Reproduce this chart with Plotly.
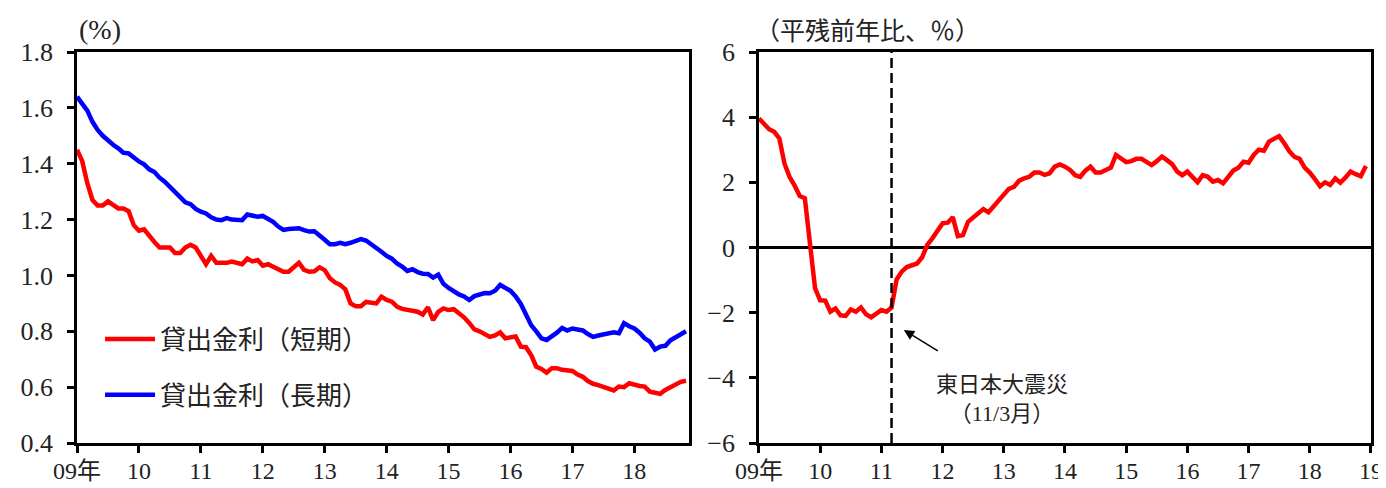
import plotly.graph_objects as go
from plotly.subplots import make_subplots

# ---------------- data ----------------
START_YEAR = 2009
# 貸出金利（短期）, monthly from 2009/1, %
rate_short = [
    1.45, 1.41, 1.33, 1.27, 1.25, 1.25, 1.265, 1.25, 1.24, 1.24, 1.23, 1.18,
    1.16, 1.165, 1.14, 1.12, 1.10, 1.10, 1.10, 1.08, 1.08, 1.10, 1.11, 1.10,
    1.07, 1.04, 1.07, 1.045, 1.045, 1.045, 1.05, 1.045, 1.04, 1.06, 1.05, 1.055,
    1.035, 1.04, 1.03, 1.02, 1.013, 1.013, 1.03, 1.045, 1.02, 1.013, 1.015, 1.029,
    1.019, 0.99, 0.975, 0.966, 0.95, 0.90, 0.89, 0.89, 0.905, 0.903, 0.90, 0.924,
    0.912, 0.906, 0.888, 0.88, 0.876, 0.876, 0.87, 0.86, 0.886, 0.84, 0.87, 0.882,
    0.876, 0.879, 0.865, 0.85, 0.83, 0.807, 0.80, 0.79, 0.78, 0.785, 0.796, 0.775,
    0.78, 0.781, 0.745, 0.743, 0.715, 0.673, 0.665, 0.652, 0.668, 0.668, 0.662, 0.659,
    0.658, 0.645, 0.637, 0.622, 0.612, 0.607, 0.600, 0.596, 0.588, 0.602, 0.600, 0.614,
    0.607, 0.604, 0.602, 0.584, 0.580, 0.576, 0.590, 0.600, 0.610, 0.619, 0.623,
]
# 貸出金利（長期）, monthly from 2009/1, %
rate_long = [
    1.640, 1.615, 1.590, 1.550, 1.521, 1.500, 1.482, 1.468, 1.455, 1.439, 1.437, 1.420,
    1.408, 1.398, 1.380, 1.370, 1.350, 1.336, 1.318, 1.300, 1.282, 1.262, 1.255, 1.238,
    1.228, 1.222, 1.208, 1.200, 1.198, 1.205, 1.200, 1.198, 1.198, 1.218, 1.214, 1.210,
    1.213, 1.203, 1.192, 1.175, 1.163, 1.166, 1.168, 1.169, 1.162, 1.157, 1.158, 1.145,
    1.128, 1.112, 1.112, 1.117, 1.112, 1.117, 1.124, 1.130, 1.125, 1.113, 1.098, 1.085,
    1.070, 1.060, 1.043, 1.032, 1.016, 1.022, 1.012, 1.006, 1.005, 0.992, 1.003, 0.970,
    0.955, 0.942, 0.932, 0.925, 0.912, 0.926, 0.930, 0.937, 0.936, 0.945, 0.966, 0.955,
    0.945, 0.925, 0.898, 0.860, 0.822, 0.800, 0.775, 0.769, 0.780, 0.795, 0.812, 0.803,
    0.810, 0.808, 0.803, 0.790, 0.780, 0.785, 0.790, 0.792, 0.796, 0.793, 0.829, 0.818,
    0.810, 0.795, 0.775, 0.763, 0.735, 0.745, 0.748, 0.768, 0.780, 0.788, 0.800,
]
# 貸出残高（平残前年比、%）, monthly from 2009/1
loan_growth = [
    3.96, 3.78, 3.63, 3.55, 3.35, 2.58, 2.17, 1.90, 1.58, 1.51, 0.10, -1.25,
    -1.62, -1.63, -1.97, -1.87, -2.08, -2.10, -1.90, -1.97, -1.84, -2.05, -2.14, -2.04,
    -1.92, -1.97, -1.84, -0.98, -0.74, -0.60, -0.55, -0.49, -0.30, 0.08, 0.28, 0.54,
    0.74, 0.76, 0.93, 0.35, 0.38, 0.79, 0.92, 1.05, 1.18, 1.08, 1.25, 1.42,
    1.62, 1.80, 1.86, 2.05, 2.12, 2.17, 2.30, 2.30, 2.23, 2.28, 2.48, 2.55,
    2.48, 2.38, 2.22, 2.17, 2.36, 2.48, 2.30, 2.30, 2.38, 2.45, 2.84, 2.74,
    2.62, 2.65, 2.72, 2.72, 2.62, 2.53, 2.65, 2.79, 2.68, 2.56, 2.33, 2.22,
    2.33, 2.17, 2.00, 2.22, 2.17, 2.02, 2.07, 1.97, 2.17, 2.36, 2.45, 2.63,
    2.60, 2.84, 3.00, 2.97, 3.25, 3.33, 3.42, 3.20, 2.95, 2.78, 2.72, 2.45,
    2.30, 2.10, 1.88, 2.00, 1.92, 2.12, 1.99, 2.15, 2.33, 2.25, 2.19, 2.50,
]
left_tick_years = list(range(2009, 2019))
left_tick_labels = ["09年", "10", "11", "12", "13", "14", "15", "16", "17", "18"]
right_tick_years = list(range(2009, 2020))
right_tick_labels = ["09年", "10", "11", "12", "13", "14", "15", "16", "17", "18", "19"]
quake_year, quake_month = 2011, 3
quake_label = "東日本大震災<br>（11/3月）"
name_short = "貸出金利（短期）"
name_long = "貸出金利（長期）"
left_title = "(%)"
right_title = "（平残前年比、％）"


def months_to_x(n):
    return [START_YEAR + i / 12 for i in range(n)]


x_left_s = months_to_x(len(rate_short))
x_left_l = months_to_x(len(rate_long))
x_right = months_to_x(len(loan_growth))
quake_x = quake_year + (quake_month - 1) / 12

FONT = "Liberation Serif, Noto Sans CJK JP, serif"
TXT = "#222222"

fig = make_subplots(rows=1, cols=2, horizontal_spacing=0.054)

fig.add_trace(go.Scatter(x=x_left_s, y=rate_short, mode="lines", name=name_short,
                         line=dict(color="#ff0000", width=4.5), legendgroup="a"), row=1, col=1)
fig.add_trace(go.Scatter(x=x_left_l, y=rate_long, mode="lines", name=name_long,
                         line=dict(color="#0000ff", width=4.5), legendgroup="b"), row=1, col=1)
fig.add_trace(go.Scatter(x=x_right, y=loan_growth, mode="lines", showlegend=False,
                         line=dict(color="#ff0000", width=4.5)), row=1, col=2)

axis_common = dict(showline=True, linecolor="black", linewidth=2.5, mirror=True,
                   ticks="outside", ticklen=7, tickwidth=2.5, tickcolor="black",
                   showgrid=False, zeroline=False, automargin=False)

fig.update_xaxes(**axis_common, ticklabelstandoff=-3,
                 tickfont=dict(family=FONT, size=24, color=TXT))
fig.update_yaxes(**axis_common, ticklabelstandoff=9,
                 tickfont=dict(family=FONT, size=26, color=TXT))

fig.update_xaxes(range=[START_YEAR, START_YEAR + 118.6 / 12], tickvals=left_tick_years,
                 ticktext=left_tick_labels, row=1, col=1)
fig.update_xaxes(range=[START_YEAR, 2019], tickvals=right_tick_years,
                 ticktext=right_tick_labels, row=1, col=2)
fig.update_yaxes(range=[0.4, 1.8], dtick=0.2, tickformat=".1f", row=1, col=1)
fig.update_yaxes(range=[-6, 6], dtick=2, zeroline=True, zerolinecolor="black",
                 zerolinewidth=2.5, row=1, col=2)

# vertical dashed line for the earthquake
fig.add_shape(type="line", xref="x2", yref="y2", x0=quake_x, x1=quake_x, y0=-6, y1=6,
              line=dict(color="black", width=2.5, dash="10px,5px"))

# arrow + label
fig.add_annotation(xref="x2", yref="y2", x=quake_x + 0.2, y=-2.53,
                   axref="x2", ayref="y2", ax=quake_x + 0.78, ay=-3.2,
                   text="", showarrow=True, arrowhead=2, arrowsize=1.3,
                   arrowwidth=1.6, arrowcolor="black")
fig.add_annotation(xref="x2", yref="y2", x=quake_x + 1.8, y=-4.65, text=quake_label,
                   showarrow=False, font=dict(family=FONT, size=22, color=TXT),
                   align="center")

# unit titles
fig.add_annotation(xref="paper", yref="paper", x=0.0, y=1.0, xanchor="left", yanchor="bottom",
                   yshift=5, text=left_title, showarrow=False,
                   font=dict(family=FONT, size=28, color=TXT))
fig.add_annotation(xref="x2 domain", yref="paper", x=0.0, y=1.0, xanchor="left", yanchor="bottom",
                   yshift=5, xshift=-6, text=right_title, showarrow=False,
                   font=dict(family=FONT, size=25, color=TXT))

# page body has an 8px margin, so the figure is drawn 8px smaller
fig.update_layout(
    width=1378, height=480,
    margin=dict(l=69, r=15, t=44, b=45, autoexpand=False),
    plot_bgcolor="white", paper_bgcolor="white",
    showlegend=True,
    legend=dict(x=0.0178, y=0.326, xanchor="left", yanchor="top", itemwidth=50,
                bgcolor="rgba(0,0,0,0)", tracegroupgap=19,
                font=dict(family=FONT, size=26, color=TXT)),
)

fig.write_html("out.html")
